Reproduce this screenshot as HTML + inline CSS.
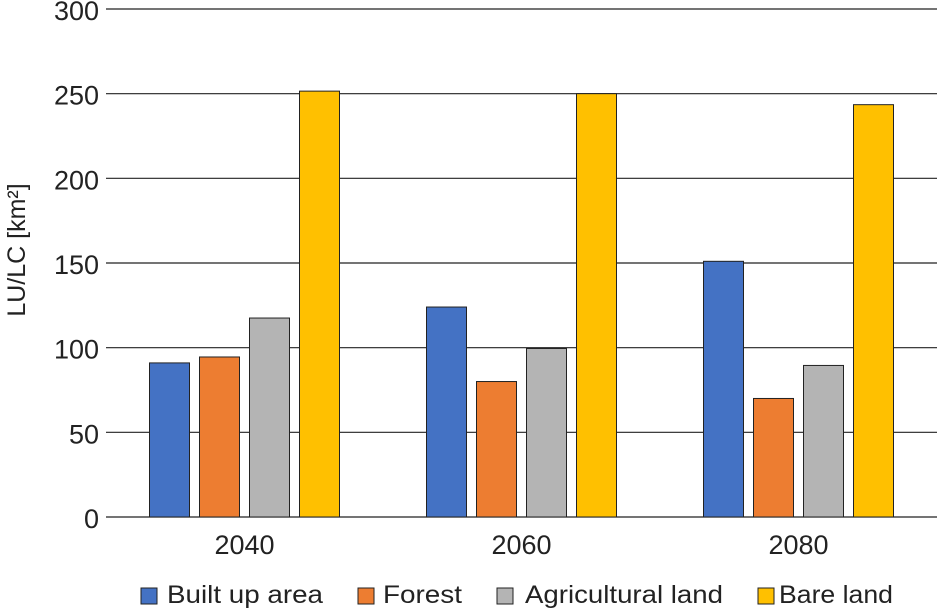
<!DOCTYPE html>
<html><head><meta charset="utf-8"><style>
body{margin:0;background:#fff;}
svg{display:block;font-family:"Liberation Sans",Arial,sans-serif;}
</style></head><body>
<svg id="chart" width="938" height="609"></svg>
<script>
const categories=["2040","2060","2080"];
const seriesNames=["Built up area","Forest","Agricultural land","Bare land"];
const builtUp=[91,124,151];
const forest=[94.5,80,70];
const agricultural=[117.5,99.5,89.5];
const bareLand=[251.5,250,243.5];
const yTicks=[0,50,100,150,200,250,300];
const colors=["#4472c4","#ed7d31","#b4b4b4","#ffc000"];
const series=[builtUp,forest,agricultural,bareLand];
const NS="http://www.w3.org/2000/svg";
const svg=document.getElementById('chart');
const x0=106,x1=937,y0=517,y1=9,yMax=300;
const yScale=v=>y0-(v/yMax)*(y0-y1);
const catW=(x1-x0)/categories.length;
const barW=40,gap=10;
function mk(t,a,txt){const e=document.createElementNS(NS,t);for(const k in a)e.setAttribute(k,a[k]);if(txt!==undefined)e.textContent=txt;svg.appendChild(e);return e;}
yTicks.forEach(t=>{
  const y=yScale(t);
  const g=mk('line',{x1:x0,x2:x1,y1:y,y2:y,stroke:'#222','stroke-width':1.2});
  
  
  const l=mk('text',{x:99,y:y+11,'text-anchor':'end','font-size':27,fill:'#222'},t);
  
  
});
const yt=mk('text',{transform:'translate(25,250) rotate(-90)','text-anchor':'middle','font-size':25,fill:'#222'},'LU/LC [km²]');


categories.forEach((c,i)=>{
  const cx=x0+catW*(i+0.5);
  const start=cx-(barW*4+gap*3)/2;
  series.forEach((s,j)=>{
    const y=yScale(s[i]);
    const r=mk('rect',{x:start+j*(barW+gap),y:y,width:barW,height:y0-y,fill:colors[j],stroke:'#222','stroke-width':1});
    
    
  });
  const l=mk('text',{x:cx,y:554,'text-anchor':'middle','font-size':27,fill:'#222'},c);
  
  
});
const lx=[141,358,497,758];
const tx=[167,383,525,779];
const tw=[156,79,198,114];
seriesNames.forEach((n,j)=>{
  const r=mk('rect',{x:lx[j],y:588,width:16,height:16,fill:colors[j],stroke:'#222','stroke-width':1});
  
  
  const t=mk('text',{x:tx[j],y:603,'font-size':25,fill:'#222',textLength:tw[j],lengthAdjust:'spacingAndGlyphs'},n);
  
  
});
</script>
</body></html>
